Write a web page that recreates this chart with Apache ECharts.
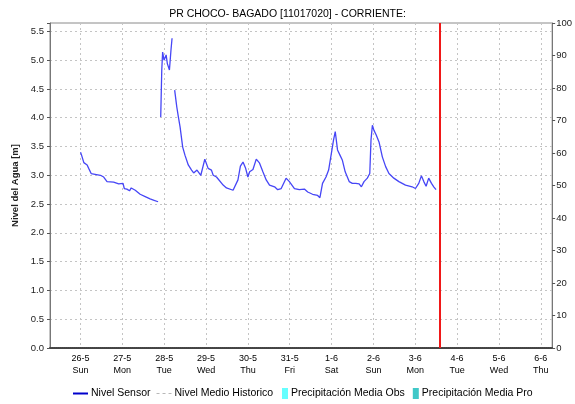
<!DOCTYPE html>
<html>
<head>
<meta charset="utf-8">
<script src="https://cdn.jsdelivr.net/npm/echarts@6/dist/echarts.min.js"></script>
<style>
  html, body { margin: 0; padding: 0; background: #fff; }
  #main { width: 575px; height: 404px; }
</style>
</head>
<body>
<div id="main"></div>
<script>
// horas desde 26-5 00:00, nivel en metros (null = sin dato)
const horas = [
  0, 0.6, 1.9, 3.8, 4.7, 6.1, 11.4, 13.3, 15.2, 19.0, 21.9, 24.4, 25.1, 26.6, 28.1, 29.1,
  31.4, 34.2, 37.1, 39.9, 41.8, 44.5, 45.2,
  46.0, 46.2, 46.6, 47.1, 47.9, 49.1, 49.8, 51.0, 51.9, 52.5, 53.2,
  54.0, 55.2, 56.1, 57.1, 58.6, 59.9, 61.8, 63.7, 64.9, 66.8, 67.7, 69.0, 71.3, 73.2, 75.1,
  76.1, 78.0, 81.8, 83.7, 87.5, 90.3, 91.7, 93.2, 94.7, 96.0, 97.0, 98.9, 100.8, 102.7,
  104.6, 106.5, 108.4, 111.3, 113.1, 115.1, 117.9, 119.8, 122.7, 125.5, 128.4, 130.3,
  133.1, 136.0, 137.3, 138.8, 140.8, 142.3, 144.2, 145.1, 146.1, 147.4, 148.8, 150.2,
  151.8, 154.1, 155.9, 157.9, 159.8, 161.1, 162.6, 164.5, 165.9, 166.6, 167.4, 168.3,
  169.6, 171.2, 173.1, 175.0, 176.9, 179.7, 182.6, 186.4, 190.2, 192.1, 194.0, 195.5,
  196.9, 198.2, 199.7, 201.3, 202.6, 203.9
];
const nivel = [
  3.40, 3.35, 3.22, 3.18, 3.12, 3.03, 3.00, 2.97, 2.89, 2.88, 2.85, 2.86, 2.77, 2.76, 2.73, 2.78,
  2.74, 2.67, 2.63, 2.59, 2.57, 2.54, null,
  4.01, 4.28, 4.83, 5.14, 5.00, 5.09, 4.94, 4.83, 5.18, 5.38, null,
  4.48, 4.19, 4.02, 3.84, 3.49, 3.35, 3.18, 3.09, 3.04, 3.09, 3.10, 3.00, 3.28, 3.12, 3.09,
  3.00, 2.97, 2.83, 2.78, 2.74, 2.92, 3.16, 3.23, 3.12, 2.97, 3.06, 3.10, 3.28, 3.21,
  3.06, 2.92, 2.83, 2.80, 2.75, 2.77, 2.95, 2.89, 2.77, 2.75, 2.76, 2.71,
  2.67, 2.65, 2.61, 2.86, 2.97, 3.09, 3.44, 3.61, 3.76, 3.44, 3.35, 3.26,
  3.06, 2.89, 2.86, 2.86, 2.85, 2.80, 2.89, 2.95, 3.03, 3.61, 3.87, 3.78,
  3.70, 3.58, 3.32, 3.15, 3.03, 2.95, 2.89, 2.83, 2.80, 2.77, 2.86, 2.99,
  2.89, 2.81, 2.95, 2.86, 2.80, 2.75
];
const horaActual = 205.8;      // linea roja
const horaMin = -17.5;
const horaMax = 270.5;
// marcas de dia: 26-5 ... 6-6 (horas desde 26-5)
const horasDias = [0, 24, 48, 72, 96, 120, 144, 168, 192, 216, 240, 264];
const diasSemana = ['Sun', 'Mon', 'Tue', 'Wed', 'Thu', 'Fri', 'Sat'];
const ticksNivel = [0, 0.5, 1, 1.5, 2, 2.5, 3, 3.5, 4, 4.5, 5, 5.5];

const base = new Date(2024, 4, 26, 0, 0, 0).getTime();
const datosSensor = horas.map((h, i) => [h, nivel[i]]);

const fuente = 'Liberation Sans';
var myChart = echarts.init(document.getElementById('main'));

var option = {
  animation: false,
  title: {
    text: 'PR CHOCO- BAGADO [11017020] - CORRIENTE:',
    left: 'center',
    top: 4,
    textStyle: { fontFamily: fuente, fontSize: 10.5, fontWeight: 'normal', color: '#000' }
  },
  grid: {
    left: 50, right: 21, top: 23, bottom: 56,
    show: true, borderColor: '#8a8a8a', borderWidth: 1
  },
  legend: [
    {
      left: 73, top: 388, padding: 0, itemWidth: 15, itemHeight: 2, itemGap: 6,
      textStyle: { fontFamily: fuente, fontSize: 10.5, color: '#000', padding: [0, 0, 0, -2] },
      data: [
        { name: 'Nivel Sensor', icon: 'rect', itemStyle: { color: '#0000cc' } },
        { name: 'Nivel Medio Historico', icon: 'path://M0,0 H3 V1 H0 Z M6,0 H9 V1 H6 Z M12,0 H15 V1 H12 Z', itemStyle: { color: '#b8b8b8' } }
      ]
    },
    {
      left: 282, top: 388, padding: 0, itemWidth: 6, itemHeight: 11, itemGap: 8,
      textStyle: { fontFamily: fuente, fontSize: 10.5, color: '#000', padding: [0, 0, 0, -2] },
      data: [
        { name: 'Precipitación Media Obs', icon: 'rect' },
        { name: 'Precipitación Media Pro', icon: 'rect' }
      ]
    }
  ],
  xAxis: {
    type: 'value',
    min: horaMin,
    max: horaMax,
    axisLine: { onZero: false, lineStyle: { color: '#444', width: 2, type: [1, 1] } },
    axisTick: { show: false, customValues: horasDias },
    axisLabel: {
      customValues: horasDias,
      fontFamily: fuente, fontSize: 9, color: '#000', lineHeight: 12, margin: 5,
      formatter: function (value) {
        const d = new Date(base + value * 3600000);
        return d.getDate() + '-' + (d.getMonth() + 1) + '\n' + diasSemana[d.getDay()];
      }
    },
    splitLine: { show: true, lineStyle: { color: '#c4c4c4', type: [2, 3] } }
  },
  yAxis: [
    {
      type: 'value',
      min: 0,
      max: 5.645,
      interval: 0.5,
      name: 'Nivel del Agua [m]',
      nameLocation: 'middle',
      nameGap: 29,
      nameTextStyle: { fontFamily: fuente, fontSize: 9.5, fontWeight: 'bold', color: '#222' },
      axisLine: { show: true, onZero: false, lineStyle: { color: '#777' } },
      axisTick: { show: true, length: 3, lineStyle: { color: '#555' } },
      axisLabel: {
        fontFamily: fuente, fontSize: 9.5, color: '#222', margin: 6,
        formatter: function (v) {
          return ticksNivel.some(k => Math.abs(k - v) < 1e-6) ? v.toFixed(1) : '';
        }
      },
      splitLine: { show: true, lineStyle: { color: '#c4c4c4', type: [2, 3] } }
    },
    {
      type: 'value',
      min: 0,
      max: 100,
      interval: 10,
      position: 'right',
      axisLine: { show: true, onZero: false, lineStyle: { color: '#777' } },
      axisTick: { show: true, length: 3, lineStyle: { color: '#555' } },
      axisLabel: { fontFamily: fuente, fontSize: 9.5, color: '#222', margin: 4 },
      splitLine: { show: false }
    }
  ],
  series: [
    {
      name: 'Nivel Sensor',
      type: 'line',
      data: datosSensor,
      symbol: 'none',
      connectNulls: false,
      lineStyle: { color: '#4646f6', width: 1.3 },
      itemStyle: { color: '#4646f6' },
      markLine: {
        silent: true,
        symbol: 'none',
        label: { show: false },
        lineStyle: { color: '#f01818', width: 2, type: 'solid' },
        data: [{ xAxis: horaActual }]
      }
    },
    {
      name: 'Nivel Medio Historico',
      type: 'line',
      data: [],
      symbol: 'none',
      lineStyle: { color: '#b8b8b8', width: 1.2, type: [3, 3] },
      itemStyle: { color: '#b8b8b8' }
    },
    {
      name: 'Precipitación Media Obs',
      type: 'line',
      yAxisIndex: 1,
      data: [],
      itemStyle: { color: '#66ffff' }
    },
    {
      name: 'Precipitación Media Pro',
      type: 'line',
      yAxisIndex: 1,
      data: [],
      itemStyle: { color: '#40c8c8' }
    }
  ]
};
myChart.setOption(option);
</script>
</body>
</html>
